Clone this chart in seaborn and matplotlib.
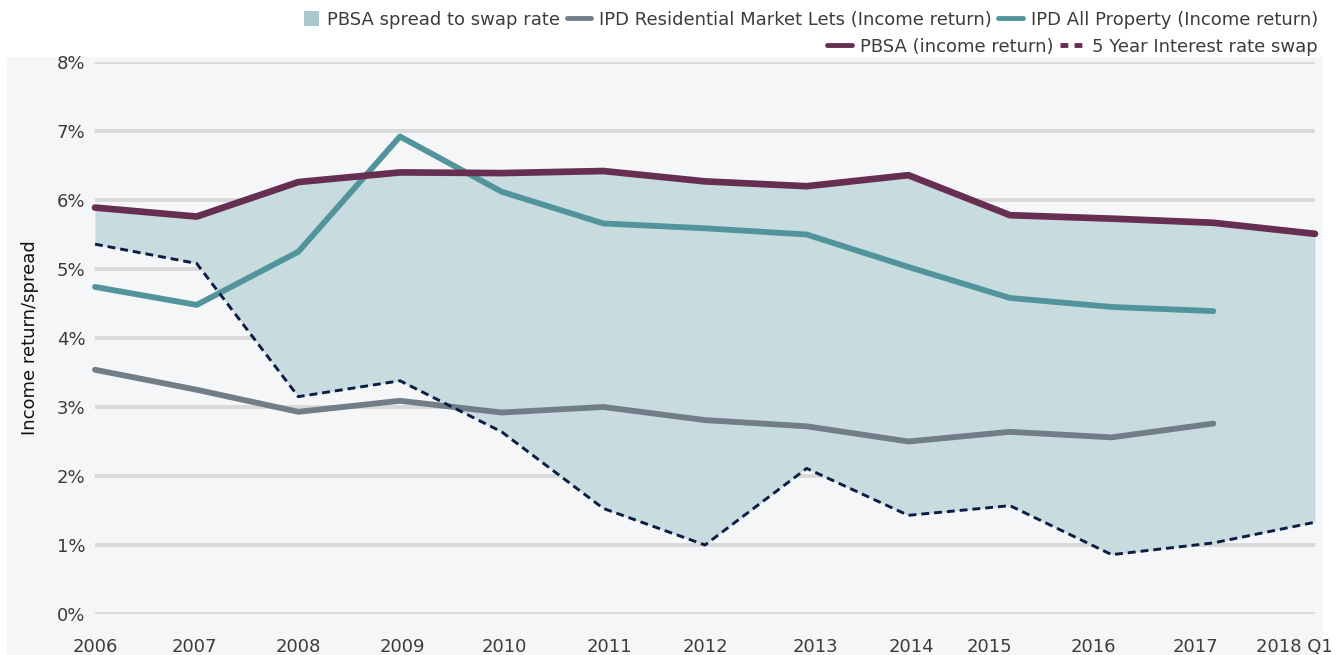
import numpy as np
import pandas as pd
import matplotlib.pyplot as plt
import seaborn as sns
from matplotlib.patches import Rectangle, Patch
from matplotlib.lines import Line2D
from matplotlib.legend_handler import HandlerPatch

years = ["2006", "2007", "2008", "2009", "2010", "2011", "2012",
         "2013", "2014", "2015", "2016", "2017", "2018 Q1"]
pbsa = [5.89, 5.76, 6.26, 6.40, 6.39, 6.42, 6.27, 6.20, 6.36, 5.78, 5.73, 5.67, 5.51]
ipd_all = [4.74, 4.48, 5.25, 6.92, 6.12, 5.66, 5.59, 5.50, 5.03, 4.58, 4.45, 4.39, np.nan]
ipd_res = [3.54, 3.25, 2.93, 3.09, 2.92, 3.00, 2.81, 2.72, 2.50, 2.64, 2.56, 2.76, np.nan]
swap = [5.36, 5.08, 3.15, 3.38, 2.64, 1.53, 1.00, 2.11, 1.43, 1.57, 0.86, 1.03, 1.33]
y_ticks = [0, 1, 2, 3, 4, 5, 6, 7, 8]

# label positions on the category axis (labels sit a little off the points in the original)
label_pos = [0, 0.98, 2.0, 3.02, 4.03, 5.06, 6.0, 7.09, 8.03, 8.8, 9.82, 10.82, 11.8]

df = pd.DataFrame({"idx": range(len(years)), "year": years, "pbsa": pbsa,
                   "ipd_all": ipd_all, "ipd_res": ipd_res, "swap": swap})

sns.set_theme(style="white")
plt.rcParams["font.family"] = ["DejaVu Sans"]

c_pbsa = "#662e51"
c_all = "#52949b"
c_res = "#717e88"
c_swap = "#0c1d45"
c_fill = "#c8dbdf"
c_text = "#3c3c3c"
bg = "#f5f6f8"
fs = 13


def square_patch(legend, orig_handle, xdescent, ydescent, width, height, fontsize):
    # small square sitting at the right end of the handle box
    s = 11
    return Rectangle((width - s - xdescent, (height - s) / 2 - ydescent), s, s)


fig = plt.figure(figsize=(13.43, 6.55), dpi=100)
fig.patch.set_facecolor("white")
panel = Rectangle((7 / 1343, 0), 1316 / 1343, 598 / 655, transform=fig.transFigure,
                  facecolor=bg, edgecolor="none", zorder=-10)
fig.add_artist(panel)

ax = fig.add_axes([95 / 1343, 1 - 614 / 655, 1220 / 1343, 552 / 655])
ax.set_facecolor("none")

ax.fill_between(df["idx"], df["swap"], df["pbsa"], color=c_fill, lw=0, zorder=2)

sns.lineplot(data=df, x="idx", y="ipd_res", ax=ax, color=c_res, lw=4.2,
             solid_capstyle="round", zorder=3, clip_on=False)
sns.lineplot(data=df, x="idx", y="ipd_all", ax=ax, color=c_all, lw=4.2,
             solid_capstyle="round", zorder=3, clip_on=False)
sns.lineplot(data=df, x="idx", y="pbsa", ax=ax, color=c_pbsa, lw=4.8,
             solid_capstyle="round", zorder=4, clip_on=False)
sns.lineplot(data=df, x="idx", y="swap", ax=ax, color=c_swap, lw=2.1,
             ls=(0, (2.7, 1.7)), zorder=4, clip_on=False)

ax.set_xlim(0, 12)
ax.set_ylim(0, 8)
ax.set_yticks(y_ticks)
ax.set_yticklabels([f"{v}%" for v in y_ticks])
ax.set_xticks(label_pos)
ax.set_xticklabels(years)
ax.grid(axis="y", color="#d9d9d9", lw=2.8)
ax.set_axisbelow(True)
for s in ax.spines.values():
    s.set_visible(False)
ax.tick_params(axis="y", length=0, pad=7, labelsize=fs, labelcolor=c_text)
ax.tick_params(axis="x", length=0, pad=17, labelsize=fs, labelcolor=c_text)
ax.set_xlabel("")
ax.set_ylabel("Income return/spread", fontsize=fs, color="#111111", labelpad=13)

row1 = [Patch(facecolor="#a8c8cd", edgecolor="none"),
        Line2D([], [], color=c_res, lw=3.5),
        Line2D([], [], color=c_all, lw=3.5)]
row1_lab = ["PBSA spread to swap rate", "IPD Residential Market Lets (Income return)",
            "IPD All Property (Income return)"]
row2 = [Line2D([], [], color=c_pbsa, lw=3.5),
        Line2D([], [], color=c_pbsa, lw=3.5, ls=(0, (1.6, 1.3)))]
row2_lab = ["PBSA (income return)", "5 Year Interest rate swap"]

kw = dict(frameon=False, fontsize=fs, handlelength=1.35, handleheight=0.8,
          handletextpad=0.45, columnspacing=0.35, borderaxespad=0, borderpad=0,
          labelcolor=c_text, loc="upper right")
leg1 = fig.legend(row1, row1_lab, ncol=3, bbox_to_anchor=(1318 / 1343, 1 - 11 / 655),
                  handler_map={Patch: HandlerPatch(patch_func=square_patch)}, **kw)
leg2 = fig.legend(row2, row2_lab, ncol=2, bbox_to_anchor=(1318 / 1343, 1 - 38 / 655), **kw)

fig.savefig("out.png", dpi=100)
